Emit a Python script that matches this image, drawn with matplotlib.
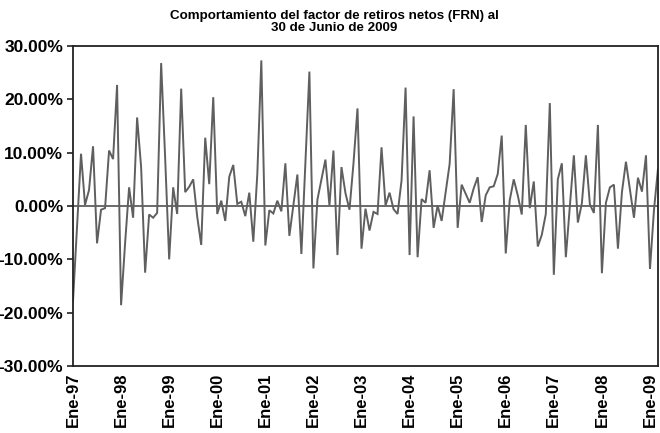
import matplotlib
matplotlib.use("Agg")
import matplotlib.pyplot as plt
import numpy as np
from matplotlib.ticker import FuncFormatter

# Monthly net withdrawal factor (FRN), in percent
frn_values = [
    -17.8, -4.0, 9.8, 0.2, 3.0, 11.2, -7.0, -0.7, -0.4, 10.4, 8.8, 22.7,
    -18.6, -7.0, 3.5, -2.2, 16.6, 7.3, -12.5, -1.6, -2.2, -1.3, 26.8, 9.0,
    -10.0, 3.5, -1.5, 22.0, 2.6, 3.6, 5.0, -2.0, -7.3, 12.8, 4.1, 20.4,
    -1.5, 1.0, -2.8, 5.5, 7.7, 0.4, 0.8, -1.9, 2.5, -6.7, 6.0, 27.3,
    -7.4, -0.8, -1.4, 1.0, -1.0, 8.0, -5.6, 0.2, 5.9, -9.0, 8.0, 25.2,
    -11.7, 1.2, 5.0, 8.7, 0.1, 10.4, -9.2, 7.3, 2.4, -0.7, 8.0, 18.3,
    -8.0, -0.5, -4.6, -1.1, -1.5, 11.0, 0.1, 2.5, -0.6, -1.5, 4.8, 22.2,
    -9.2, 16.8, -9.6, 1.3, 0.6, 6.7, -4.1, 0.1, -2.8, 2.5, 7.9, 21.9,
    -4.1, 4.0, 2.3, 0.6, 3.3, 5.4, -3.0, 2.0, 3.5, 3.7, 6.0, 13.2,
    -8.9, 1.1, 5.0, 2.0, -1.6, 15.2, -0.4, 4.6, -7.6, -5.4, -1.5, 19.3,
    -12.9, 5.0, 8.0, -9.6, 0.0, 9.5, -3.1, 0.5, 9.5, 0.3, -1.3, 15.2,
    -12.6, 0.6, 3.5, 4.0, -8.0, 2.6, 8.3, 3.0, -2.2, 5.3, 2.7, 9.5,
    -11.8, -0.7, 7.0,
]
tick_labels = ["Ene-97", "Ene-98", "Ene-99", "Ene-00", "Ene-01", "Ene-02", "Ene-03",
               "Ene-04", "Ene-05", "Ene-06", "Ene-07", "Ene-08", "Ene-09"]
tick_positions = [0, 12, 24, 36, 48, 60, 72, 84, 96, 108, 120, 132, 144]
title = "Comportamiento del factor de retiros netos (FRN) al\n30 de Junio de 2009"

plt.rcParams['font.family'] = ['Liberation Sans', 'DejaVu Sans']

fig = plt.figure(figsize=(6.6, 4.33), dpi=100)
ax = fig.add_axes([73/660, 1 - 366/433, (658-73)/660, (366-46)/433])

x = np.arange(len(frn_values))
y = np.array(frn_values) / 100.0
ax.plot(x, y, color='#5f5f5f', lw=1.4, solid_joinstyle='miter')
ax.axhline(0, color='#5f5f5f', lw=1.3, zorder=1)

ax.set_xlim(0, len(frn_values) - 1)
ax.set_ylim(-0.30, 0.30)
ax.set_yticks(np.arange(-0.30, 0.301, 0.10))
ax.yaxis.set_major_formatter(FuncFormatter(lambda v, p: f"{v*100:.2f}%"))
ax.set_xticks(tick_positions)
ax.set_xticklabels(tick_labels, rotation=90, fontweight='bold', fontsize=12)
for lab in ax.get_yticklabels():
    lab.set_fontweight('bold')
    lab.set_fontsize(12.5)
ax.tick_params(axis='y', direction='out', length=4, width=1.2, pad=3, color='#222222')
ax.tick_params(axis='x', length=0, pad=5)
for sp in ax.spines.values():
    sp.set_color('#222222')
    sp.set_linewidth(1.3)

fig.text(0.507, 0.978, title, ha='center', va='top', fontsize=9.6,
         fontweight='bold', linespacing=1.05)

fig.savefig("out.png", dpi=100)
